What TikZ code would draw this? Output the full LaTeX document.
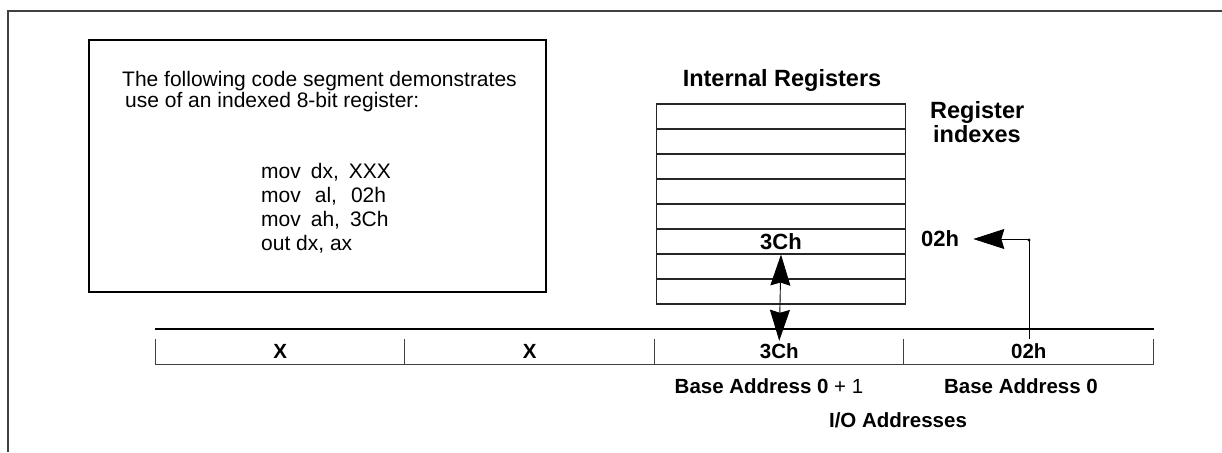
\documentclass[tikz,border=0pt]{standalone}
\usepackage{fontspec}
\setmainfont{Liberation Sans}
\usetikzlibrary{arrows.meta}
\tikzset{
  frameline/.style={draw=black!75, line width=1.3pt},
  boxline/.style={draw=black, line width=1.2pt},
  regrow/.style={draw=black!85, line width=1.1pt, minimum width=249pt, minimum height=25pt, inner sep=0pt},
  cellnode/.style={minimum width=249.5pt, minimum height=25pt, inner sep=0pt, font=\bfseries\fontsize{20.5}{24}\selectfont},
  cellline/.style={draw=black!75, line width=1.2pt},
  bigtip/.style={line width=0.9pt},
  txt/.style={font=\fontsize{21}{24}\selectfont, inner sep=0pt},
  btxt/.style={font=\bfseries\fontsize{20.5}{24}\selectfont, inner sep=0pt},
  headtip/.tip={Stealth[length=31pt,width=20pt,inset=3pt]},
}
\begin{document}
\begin{tikzpicture}[x=1pt,y=-1pt]
\useasboundingbox (0,0) rectangle (1222,452);
% outer frame
\draw[frameline] (8,452) -- (8,11) -- (1222,11);
% code box
\node[boxline, minimum width=457pt, minimum height=252pt, inner sep=0pt] (codebox) at (317.5,166) {};
\node[txt, align=left, anchor=north west, font=\fontsize{21}{21.5}\selectfont] (intro) at (122,71)
  {The following code segment demonstrates\\\hspace{3pt}use of an indexed 8-bit register:};
\node[txt, align=left, anchor=west] (code) at (261,208)
  {mov\hspace{10pt}dx,\hspace{10pt}XXX\\mov\hspace{14pt}al,\hspace{14pt}02h\\mov\hspace{10pt}ah,\hspace{10pt}3Ch\\out dx, ax};
% internal registers
\node[btxt, font=\bfseries\fontsize{23.5}{24}\selectfont] (regtitle) at (782,80) {Internal Registers};
\foreach \k in {1,...,8} {
  \node[regrow] (r\k) at (781,{104+25*(\k-0.5)}) {};
}
\node[btxt, font=\bfseries\fontsize{22}{24}\selectfont] (reg3c) at (781,242) {3Ch};
\node[btxt, align=left, anchor=west, font=\bfseries\fontsize{23.5}{24}\selectfont] (regidx) at (930,122) {Register\\\hspace{3pt}indexes};
\node[btxt, anchor=west, font=\bfseries\fontsize{22}{24}\selectfont] (idx02) at (921,239) {02h};
% I/O bus
\coordinate (busL) at (155,329);
\coordinate (busR) at (1154,329);
\draw[boxline] (busL) -- (busR);
\node[cellnode] (c1) at (280.25,351.5) {X};
\node[cellnode] (c2) at (529.75,351.5) {X};
\node[cellnode] (c3) at (779.25,351.5) {3Ch};
\node[cellnode] (c4) at (1028.75,351.5) {02h};
\draw[cellline] (c1.north west) -- (c1.south west) -- (c4.south east) -- (c4.north east);
\draw[cellline] (c2.north west) -- (c2.south west);
\draw[cellline] (c3.north west) -- (c3.south west);
\draw[cellline] (c4.north west) -- (c4.south west);
\node[btxt] (ba1) at (769,386) {Base Address 0 \mdseries+ 1};
\node[btxt] (ba0) at (1021,386) {Base Address 0};
\node[btxt] (ioaddr) at (898,420) {I/O Addresses};
% arrows
\draw[bigtip, {headtip}-{headtip}]
  (r6.south) -- ([yshift=-2pt]c3.north);
\coordinate (bend) at (1029,240);
\draw[bigtip, -{headtip}, shorten >=14pt]
  ([xshift=0.25pt]c4.north) |- (idx02.east);
\fill (bend) circle (1.6pt);
\end{tikzpicture}
\end{document}
